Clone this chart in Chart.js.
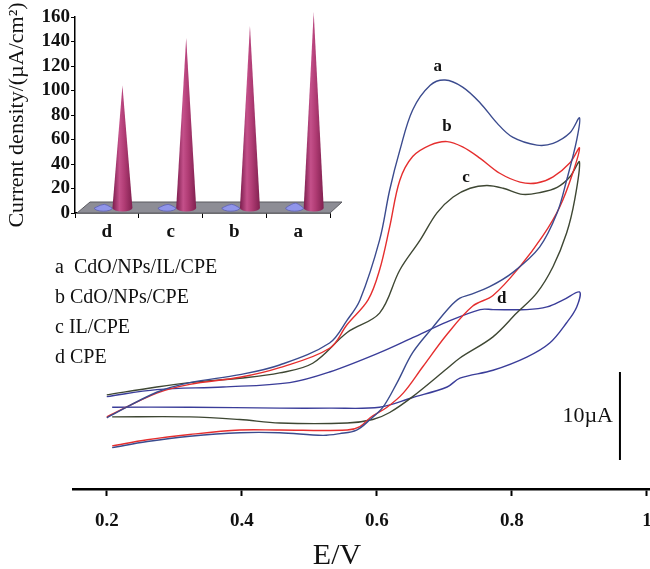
<!DOCTYPE html>
<html>
<head>
<meta charset="utf-8">
<script src="https://cdn.jsdelivr.net/npm/chart.js@4.4.0/dist/chart.umd.min.js"></script>
<style>
  html, body { margin: 0; padding: 0; background: #fff; }
  #wrap { position: relative; width: 650px; height: 569px; }
  #cv, #inset { position: absolute; left: 0; top: 0; }
</style>
</head>
<body>
<div id="wrap">
  <canvas id="cv" width="650" height="569"></canvas>
  <canvas id="inset" width="350" height="245"></canvas>
</div>
<script>
// voltammograms, [E (V), I (uA)] - forward scan then reverse scan
var aFwd = [[0.200,-0.9],[0.274,2.0],[0.323,3.1],[0.397,4.0],[0.456,5.1],[0.530,7.6],[0.556,10.2],[0.575,12.5],[0.604,19.3],[0.619,25.0],[0.634,29.5],[0.653,34.1],[0.679,36.9],[0.701,37.5],[0.727,36.7],[0.753,34.9],[0.778,32.6],[0.801,31.0],[0.837,30.1],[0.861,30.3],[0.886,31.5],[0.900,33.2]];
var aRev = [[0.896,30.7],[0.881,26.1],[0.867,22.4],[0.841,18.5],[0.801,15.6],[0.767,14.0],[0.738,13.1],[0.723,12.7],[0.708,11.7],[0.683,9.4],[0.653,6.5],[0.630,3.1],[0.609,0.3],[0.590,-1.1],[0.570,-2.3],[0.545,-2.7],[0.520,-2.9],[0.456,-2.6],[0.397,-2.6],[0.323,-3.0],[0.260,-3.6],[0.208,-4.3]];
var bFwd = [[0.200,-0.8],[0.274,1.9],[0.323,2.9],[0.397,3.7],[0.456,4.8],[0.530,7.0],[0.556,9.7],[0.587,12.5],[0.604,15.9],[0.619,20.8],[0.634,26.1],[0.653,28.8],[0.679,30.1],[0.704,30.5],[0.727,29.9],[0.753,28.6],[0.782,26.9],[0.812,25.9],[0.837,25.8],[0.861,26.5],[0.886,28.1],[0.900,29.8]];
var bRev = [[0.890,26.9],[0.871,23.1],[0.846,19.8],[0.812,16.3],[0.772,13.0],[0.742,11.8],[0.704,8.6],[0.668,4.9],[0.639,1.9],[0.615,0.3],[0.590,-0.9],[0.575,-1.9],[0.556,-2.3],[0.456,-2.3],[0.397,-2.3],[0.323,-2.8],[0.260,-3.4],[0.208,-4.1]];
var cFwd = [[0.200,1.7],[0.274,2.6],[0.323,3.1],[0.397,3.6],[0.456,4.2],[0.505,5.3],[0.556,8.8],[0.604,11.0],[0.634,15.9],[0.664,19.3],[0.689,22.4],[0.713,24.2],[0.738,25.2],[0.763,25.5],[0.787,25.2],[0.816,24.5],[0.841,24.7],[0.867,25.3],[0.886,26.5],[0.900,28.2]];
var cRev = [[0.893,23.9],[0.881,20.1],[0.861,16.3],[0.837,13.3],[0.807,11.0],[0.772,8.3],[0.723,5.9],[0.704,4.7],[0.653,1.5],[0.619,-0.3],[0.594,-1.1],[0.556,-1.5],[0.456,-1.5],[0.397,-1.1],[0.323,-0.8],[0.208,-0.8]];
var dFwd = [[0.200,1.5],[0.274,2.3],[0.372,2.6],[0.471,3.1],[0.530,4.3],[0.604,6.5],[0.653,8.2],[0.704,10.0],[0.753,11.4],[0.772,11.4],[0.822,11.4],[0.852,11.7],[0.876,12.5],[0.900,13.4]];
var dRev = [[0.896,11.7],[0.881,9.9],[0.856,7.6],[0.822,6.0],[0.772,4.5],[0.723,3.6],[0.704,2.6],[0.653,1.4],[0.604,0.3],[0.530,0.2],[0.456,0.2],[0.323,0.3],[0.208,0.3]];

var xTickValues = [0.2, 0.4, 0.6, 0.8, 1.0];
var xTickLabels = ['0.2', '0.4', '0.6', '0.8', '1'];

// curve tags (text, E, I)
var tagText = ['a', 'b', 'c', 'd'];
var tagE = [0.690, 0.704, 0.732, 0.785];
var tagI = [39.0, 32.2, 26.4, 12.7];

var legendLines = ['a  CdO/NPs/IL/CPE', 'b CdO/NPs/CPE', 'c IL/CPE', 'd CPE'];

// inset: peak current density
var insetCats = ['d', 'c', 'b', 'a'];
var coneValues = [104, 143, 153, 164];
var discValues = [3, 3, 3, 4];
var insetTicks = [0, 20, 40, 60, 80, 100, 120, 140, 160];

var serif = '"Liberation Serif", "Times New Roman", serif';

function pts(arr) {
    return arr.map(function(p) { return {x: p[0], y: p[1]}; });
}

function curve(fwd, rev, color) {
    return {
        data: pts(fwd.concat(rev)),
        borderColor: color,
        borderWidth: 1.4,
        showLine: true,
        pointRadius: 0,
        tension: 0.35,
        fill: false
    };
}

var notes = {
    id: 'notes',
    afterDraw: function(chart) {
        var ctx = chart.ctx;
        var xs = chart.scales.x, ys = chart.scales.y;
        ctx.save();
        ctx.fillStyle = '#111';
        ctx.textBaseline = 'middle';

        ctx.font = 'bold 17px ' + serif;
        ctx.textAlign = 'center';
        for (var i = 0; i < tagText.length; i++) {
            ctx.fillText(tagText[i], xs.getPixelForValue(tagE[i]), ys.getPixelForValue(tagI[i]));
        }

        ctx.font = '20px ' + serif;
        ctx.textAlign = 'left';
        legendLines.forEach(function(s, i) {
            ctx.fillText(s, 55, 268 + i * 30);
        });

        // 10 uA scale bar
        var bx = xs.getPixelForValue(0.96);
        ctx.strokeStyle = '#000';
        ctx.lineWidth = 2;
        ctx.beginPath();
        ctx.moveTo(bx, ys.getPixelForValue(-5.7));
        ctx.lineTo(bx, ys.getPixelForValue(4.3));
        ctx.stroke();
        ctx.font = '22px ' + serif;
        ctx.textAlign = 'right';
        ctx.fillText('10µA', bx - 7, ys.getPixelForValue(-0.7));

        ctx.font = '30px ' + serif;
        ctx.textAlign = 'center';
        ctx.fillText('E/V', xs.getPixelForValue(0.541), 556);
        ctx.restore();
    }
};

new Chart(document.getElementById('cv'), {
    type: 'scatter',
    data: {
        datasets: [
            curve(aFwd, aRev, '#3b4b8e'),
            curve(bFwd, bRev, '#e52e2e'),
            curve(cFwd, cRev, '#3e4733'),
            curve(dFwd, dRev, '#3a3d99')
        ]
    },
    options: {
        responsive: false,
        animation: false,
        devicePixelRatio: 1,
        layout: {padding: {left: 73, right: 0, top: 0, bottom: 0}},
        plugins: {legend: {display: false}, tooltip: {enabled: false}},
        scales: {
            x: {
                type: 'linear',
                min: 0.15,
                max: 1.0045,
                afterBuildTicks: function(s) { s.ticks = xTickValues.map(function(v) { return {value: v}; }); },
                afterFit: function(s) { s.height = 80; s.paddingLeft = 0; s.paddingRight = 0; },
                border: {display: true, color: '#000', width: 2.5},
                grid: {drawOnChartArea: false, drawTicks: true, tickLength: 7, tickWidth: 2, tickColor: '#000'},
                ticks: {
                    color: '#111',
                    padding: 14,
                    maxRotation: 0,
                    autoSkip: false,
                    font: {family: serif, size: 19, weight: 'bold'},
                    callback: function(v, i) { return xTickLabels[i]; }
                }
            },
            y: {display: false, min: -9.0, max: 46.6}
        }
    },
    plugins: [notes]
});

var cones = {
    id: 'cones',
    beforeDatasetsDraw: function(chart) {
        var ctx = chart.ctx, a = chart.chartArea;
        var y0 = chart.scales.y.getPixelForValue(0);
        ctx.save();
        ctx.beginPath();
        ctx.moveTo(a.left + 2, y0);
        ctx.lineTo(a.right, y0);
        ctx.lineTo(a.right + 12, y0 - 11);
        ctx.lineTo(a.left + 15, y0 - 11);
        ctx.closePath();
        ctx.fillStyle = '#8d8d95';
        ctx.fill();
        ctx.strokeStyle = '#5a5a60';
        ctx.lineWidth = 1;
        ctx.stroke();
        ctx.restore();
    },
    afterDatasetsDraw: function(chart) {
        var ctx = chart.ctx;
        var y0 = chart.scales.y.getPixelForValue(0);
        var yb = y0 - 5;
        ctx.save();
        chart.getDatasetMeta(0).data.forEach(function(el) {
            var cx = el.x + 6, r = 9, tip = el.y - 5;
            ctx.beginPath();
            ctx.moveTo(cx - r, yb);
            ctx.quadraticCurveTo(cx - 2, tip, cx + 1, tip);
            ctx.quadraticCurveTo(cx + 3, tip, cx + r, yb);
            ctx.ellipse(cx, yb, r, 3.2, 0, 0, Math.PI, false);
            ctx.closePath();
            ctx.fillStyle = '#9095ea';
            ctx.fill();
            ctx.strokeStyle = '#5d60b0';
            ctx.lineWidth = 0.8;
            ctx.stroke();
        });
        chart.getDatasetMeta(1).data.forEach(function(el) {
            var cx = el.x + 6, r = 10;
            var g = ctx.createLinearGradient(cx - r, 0, cx + r, 0);
            g.addColorStop(0, '#7a1c4c');
            g.addColorStop(0.35, '#c4508a');
            g.addColorStop(0.6, '#b03c74');
            g.addColorStop(1, '#80204f');
            ctx.beginPath();
            ctx.moveTo(cx - r, yb);
            ctx.lineTo(cx, el.y);
            ctx.lineTo(cx + r, yb);
            ctx.ellipse(cx, yb, r, 3.5, 0, 0, Math.PI, false);
            ctx.closePath();
            ctx.fillStyle = g;
            ctx.fill();
        });
        ctx.restore();
    }
};

new Chart(document.getElementById('inset'), {
    type: 'bar',
    data: {
        labels: insetCats,
        datasets: [
            {data: discValues, backgroundColor: 'rgba(0,0,0,0)', categoryPercentage: 0.6, barPercentage: 1.0},
            {data: coneValues, backgroundColor: 'rgba(0,0,0,0)', categoryPercentage: 0.6, barPercentage: 1.0}
        ]
    },
    options: {
        responsive: false,
        animation: false,
        devicePixelRatio: 1,
        layout: {padding: {left: 0, right: 20, top: 17, bottom: 0}},
        plugins: {legend: {display: false}, tooltip: {enabled: false}},
        scales: {
            x: {
                afterFit: function(s) { s.height = 32; },
                border: {color: '#000', width: 1.5},
                grid: {drawOnChartArea: false, tickLength: 5, tickColor: '#000'},
                ticks: {color: '#111', padding: 3, font: {family: serif, size: 19, weight: 'bold'}}
            },
            y: {
                min: 0,
                max: 160,
                afterBuildTicks: function(s) { s.ticks = insetTicks.map(function(v) { return {value: v}; }); },
                afterFit: function(s) { s.width = 75; },
                border: {color: '#000', width: 1.5},
                grid: {drawOnChartArea: false, tickLength: 4, tickColor: '#000'},
                ticks: {color: '#111', padding: 1, autoSkip: false, font: {family: serif, size: 19, weight: 'bold', lineHeight: 1}},
                title: {
                    display: true,
                    text: 'Current density/(µA/cm²)',
                    color: '#111',
                    padding: {top: 4, bottom: 0},
                    font: {family: serif, size: 22}
                }
            }
        }
    },
    plugins: [cones]
});
</script>
</body>
</html>
